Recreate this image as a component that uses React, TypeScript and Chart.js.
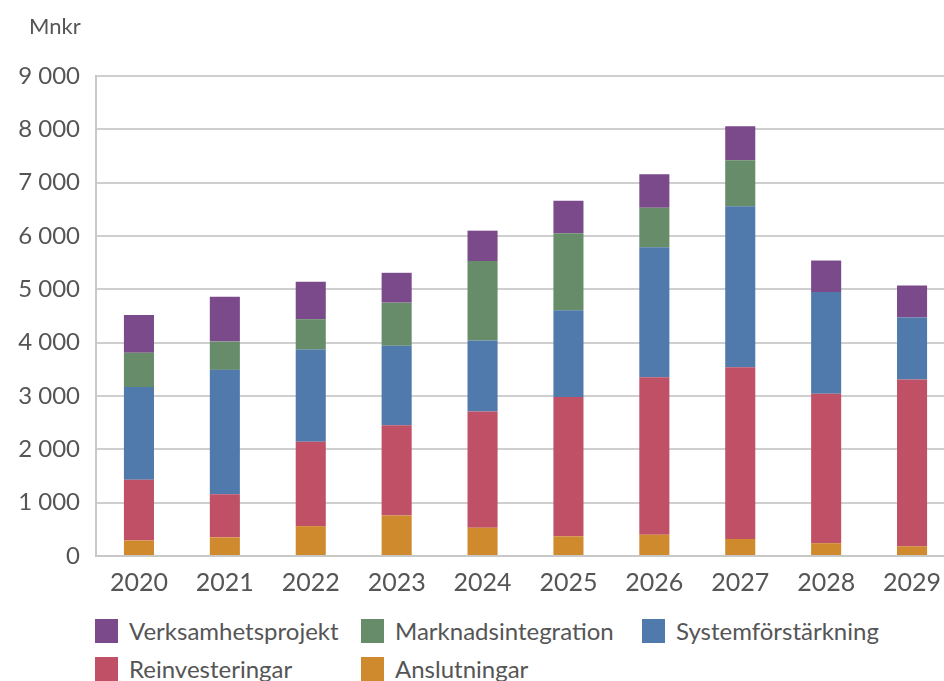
import React, { useEffect, useRef } from "react";
import { Chart, registerables } from "chart.js";

Chart.register(...registerables);

const years = ["2020", "2021", "2022", "2023", "2024", "2025", "2026", "2027", "2028", "2029"];
const anslutningar = [290, 350, 560, 760, 530, 370, 400, 320, 240, 180];
const reinvesteringar = [1140, 810, 1580, 1690, 2180, 2610, 2950, 3220, 2800, 3130];
const systemforstarkning = [1740, 2330, 1730, 1490, 1330, 1630, 2440, 3020, 1910, 1160];
const marknadsintegration = [640, 530, 570, 810, 1490, 1440, 740, 860, 0, 0];
const verksamhetsprojekt = [710, 840, 700, 560, 570, 610, 630, 640, 590, 600];
const yTickLabels = ["0", "1 000", "2 000", "3 000", "4 000", "5 000", "6 000", "7 000", "8 000", "9 000"];
const unitLabel = "Mnkr";

// stacking order: first = bottom
const series = [
  { label: "Anslutningar", data: anslutningar, color: "#d08a2e" },
  { label: "Reinvesteringar", data: reinvesteringar, color: "#bf5066" },
  { label: "Systemförstärkning", data: systemforstarkning, color: "#4f7aab" },
  { label: "Marknadsintegration", data: marknadsintegration, color: "#678c6a" },
  { label: "Verksamhetsprojekt", data: verksamhetsprojekt, color: "#7a4a8a" },
];

const legendOrder = ["Verksamhetsprojekt", "Marknadsintegration", "Systemförstärkning", "Reinvesteringar", "Anslutningar"];
const legendPos = [
  { left: 95, top: 619 },
  { left: 361, top: 619 },
  { left: 642, top: 619 },
  { left: 95, top: 657 },
  { left: 361, top: 657 },
];

const textColor = "#555555";
const fontFamily = "Lato, 'Open Sans', sans-serif";

export default function App() {
  const ref = useRef<HTMLCanvasElement>(null);

  useEffect(() => {
    const chart = new Chart(ref.current as HTMLCanvasElement, {
      type: "bar",
      data: {
        labels: years,
        datasets: series.map((s) => ({
          label: s.label,
          data: s.data,
          backgroundColor: s.color,
          borderWidth: 0,
          barPercentage: 0.35,
          categoryPercentage: 1,
          stack: "s",
        })),
      },
      options: {
        responsive: false,
        animation: false,
        layout: { padding: { top: 76, right: 5, left: 0, bottom: 0 } },
        plugins: { legend: { display: false }, tooltip: { enabled: false } },
        scales: {
          x: {
            stacked: true,
            grid: { display: false, drawTicks: false },
            border: { display: true, color: "#c8c8c8", width: 2 },
            ticks: { color: textColor, font: { family: fontFamily, size: 25 }, padding: 12 },
            afterFit: (s: any) => {
              s.height = 49;
            },
          },
          y: {
            stacked: true,
            min: 0,
            max: 9000,
            ticks: {
              stepSize: 1000,
              callback: (v: any) => yTickLabels[Math.round(Number(v) / 1000)],
              color: textColor,
              font: { family: fontFamily, size: 24 },
              padding: 16,
            },
            grid: { color: "#cfcfcf", lineWidth: 2, drawTicks: false },
            border: { display: true, color: "#c8c8c8", width: 2 },
            afterFit: (s: any) => {
              s.width = 96;
            },
          },
        },
      },
    });
    return () => chart.destroy();
  }, []);

  return (
    <div
      style={{
        position: "fixed",
        left: 0,
        top: 0,
        width: 944,
        height: 681,
        overflow: "hidden",
        background: "#ffffff",
        fontFamily,
        color: textColor,
      }}
    >
      <canvas ref={ref} width={960} height={605} style={{ position: "absolute", left: 0, top: 0 }} />
      <div style={{ position: "absolute", left: 29, top: 15, fontSize: 22, lineHeight: "22px" }}>{unitLabel}</div>
      {legendOrder.map((name, i) => {
        const s = series.find((x) => x.label === name)!;
        const p = legendPos[i];
        return (
          <div
            key={name}
            style={{
              position: "absolute",
              left: p.left,
              top: p.top,
              display: "flex",
              alignItems: "flex-start",
              whiteSpace: "nowrap",
              fontSize: 24,
              lineHeight: "24px",
            }}
          >
            <span style={{ display: "inline-block", width: 23, height: 24, background: s.color, marginRight: 11 }} />
            <span>{name}</span>
          </div>
        );
      })}
    </div>
  );
}
